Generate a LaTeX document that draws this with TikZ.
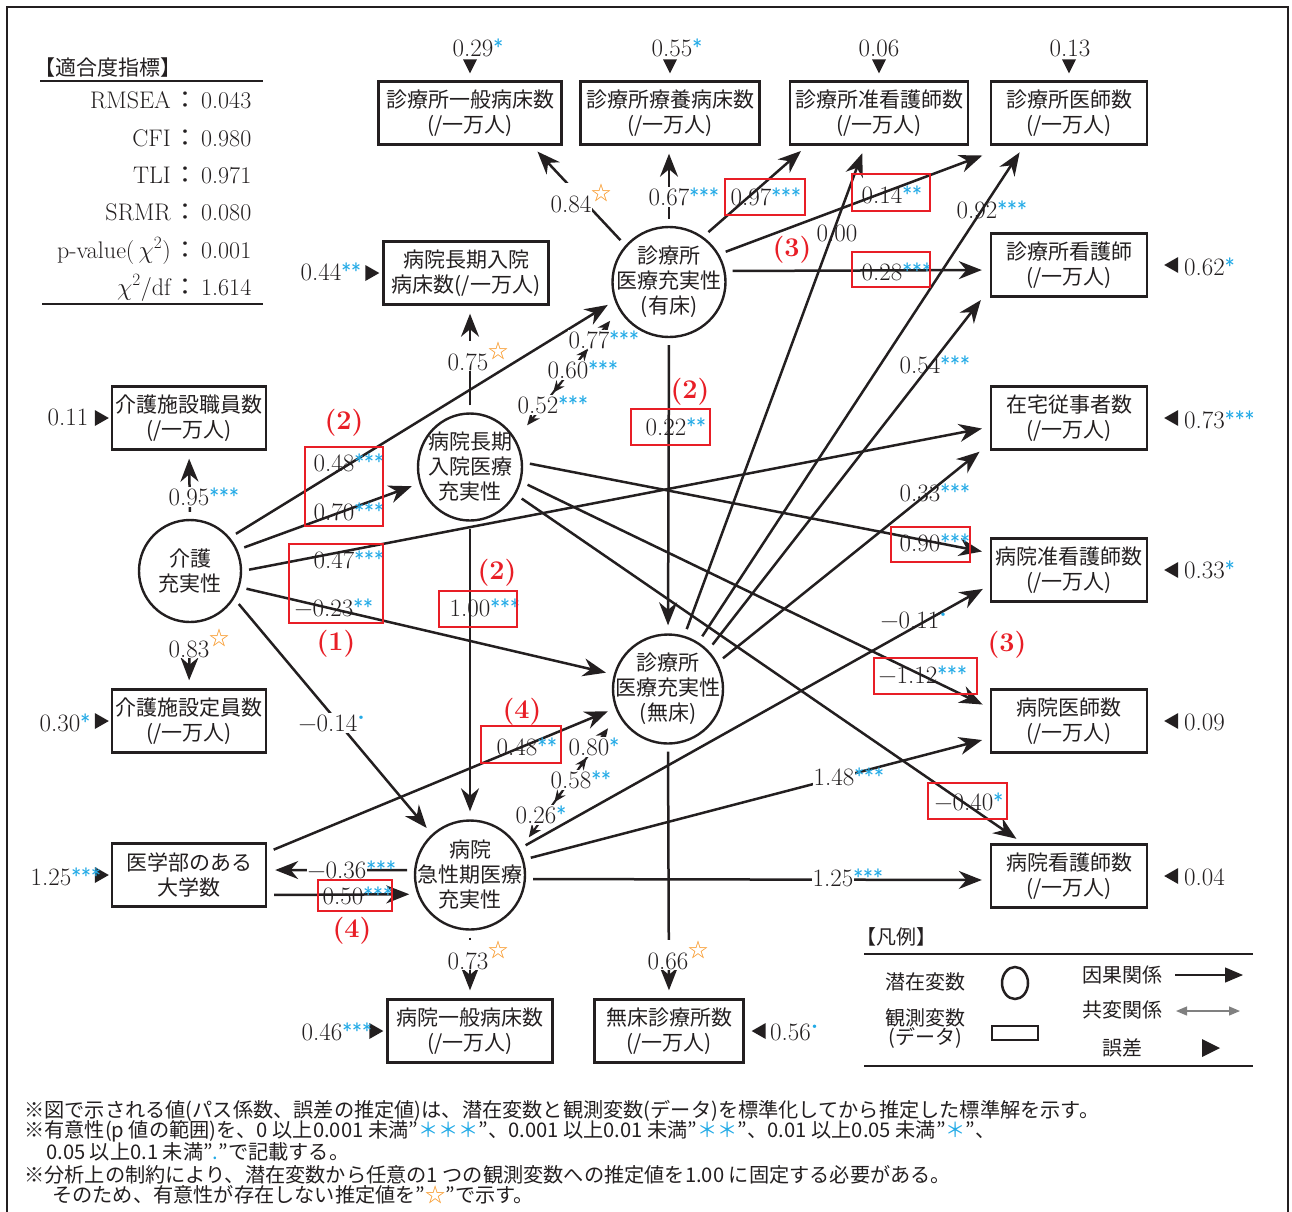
\documentclass[tikz,border=0pt]{standalone}
\usepackage{fontspec}
\usetikzlibrary{arrows.meta,shapes.geometric}
\newfontfamily\jpf{Noto Sans CJK JP}
\definecolor{sigc}{RGB}{35,170,230}
\definecolor{starc}{RGB}{247,147,30}
\definecolor{redc}{RGB}{232,30,38}
\definecolor{ink}{RGB}{35,31,32}
\newcommand\boxfont{\jpf\fontsize{21}{25}\selectfont}
\newcommand\numfont{\fontsize{25}{28}\selectfont}
% significance marks set after a number without widening it
\newcommand\sig[1]{\rlap{\raisebox{2pt}{\fontsize{21}{21}\selectfont\sffamily\textcolor{sigc}{#1}}}}
\newcommand\fixd{\rlap{\raisebox{12pt}{\jpf\fontsize{20}{20}\selectfont\textcolor{starc}{☆}}}}
\newcommand\marg{\rlap{\raisebox{12pt}{\fontsize{24}{24}\selectfont\bfseries\textcolor{sigc}{.}}}}
\tikzset{
  obs/.style={draw=ink, line width=2.4pt, minimum height=63pt, align=center, font=\boxfont, text=ink, inner sep=0pt},
  lat/.style={draw=ink, ellipse, line width=2.4pt, inner sep=0pt},
  lattxt/.style={align=center, font=\boxfont, text=ink, inner sep=0pt},
  cause/.style={draw=ink, line width=2.5pt, -{Stealth[length=23pt,width=18pt]}, shorten <=7pt, shorten >=8pt},
  cov/.style={draw=ink, line width=2.1pt, {Stealth[length=13pt,width=11pt]}-{Stealth[length=13pt,width=11pt]}},
  covmid/.style={draw=ink, line width=2.1pt, -{Stealth[length=12pt,width=10pt]}},
  lab/.style={font=\numfont, text=ink, inner sep=1pt},
  labw/.style={lab, fill=white},
  rbox/.style={draw=redc, line width=2pt},
  rnum/.style={text=redc, font=\fontsize{27}{27}\selectfont\bfseries, inner sep=0pt},
  fitl/.style={font=\fontsize{24}{26}\selectfont, text=ink, inner sep=0pt},
  lgt/.style={font=\jpf\fontsize{20}{22}\selectfont, text=ink, inner sep=0pt, align=center},
  fn/.style={font=\jpf\fontsize{20.2}{22}\selectfont, text=ink, inner sep=0pt, anchor=base west},
  errD/.pic={\fill[ink] (-7,-7) -- (7,-7) -- (0,7) -- cycle;},
  errL/.pic={\fill[ink] (7,-8) -- (7,8) -- (-7,0) -- cycle;},
  errR/.pic={\fill[ink] (-7,-8) -- (-7,8) -- (7,0) -- cycle;},
  errRbig/.pic={\fill[ink] (-9,-9) -- (-9,9) -- (9,0) -- cycle;},
}
\begin{document}
\begin{tikzpicture}[x=1pt,y=-1pt]
\useasboundingbox (0,0) rectangle (1292,1211);
\draw[ink, line width=2.5pt] (7,7) rectangle (1288,1240);

% ---------- fit indices ----------
\node[fitl, anchor=west, font=\jpf\fontsize{21}{24}\selectfont] (fh) at (34,68) {【適合度指標】};
\draw[ink, line width=2.4pt] (40,81) -- (263,81);
\node[fitl, anchor=base east] (fa1) at (171,108) {RMSEA};
\node[fitl, anchor=base west] (fb1) at (173,108) {{\jpf ：}\,0.043};
\node[fitl, anchor=base east] (fa2) at (171,146) {CFI};
\node[fitl, anchor=base west] (fb2) at (173,146) {{\jpf ：}\,0.980};
\node[fitl, anchor=base east] (fa3) at (171,183) {TLI};
\node[fitl, anchor=base west] (fb3) at (173,183) {{\jpf ：}\,0.971};
\node[fitl, anchor=base east] (fa4) at (171,220) {SRMR};
\node[fitl, anchor=base west] (fb4) at (173,220) {{\jpf ：}\,0.080};
\node[fitl, anchor=base east] (fa5) at (171,258) {p-value($\,\chi^{2}$)};
\node[fitl, anchor=base west] (fb5) at (173,258) {{\jpf ：}\,0.001};
\node[fitl, anchor=base east] (fa6) at (171,295) {$\chi^{2}$/df};
\node[fitl, anchor=base west] (fb6) at (173,295) {{\jpf ：}\,1.614};
\draw[ink, line width=2.4pt] (42,304) -- (263,304);

% ---------- observed variables ----------
\node[obs, minimum width=183pt] (b1) at (470,113) {診療所一般病床数\\(/一万人)};
\node[obs, minimum width=179pt] (b2) at (670,113) {診療所療養病床数\\(/一万人)};
\node[obs, minimum width=178pt] (b3) at (879,113) {診療所准看護師数\\(/一万人)};
\node[obs, minimum width=156pt] (b4) at (1069,113) {診療所医師数\\(/一万人)};
\node[obs, minimum width=156pt] (n1) at (1069,265) {診療所看護師\\(/一万人)};
\node[obs, minimum width=156pt] (n2) at (1069,418) {在宅従事者数\\(/一万人)};
\node[obs, minimum width=156pt] (n3) at (1069,570) {病院准看護師数\\(/一万人)};
\node[obs, minimum width=156pt] (n4) at (1069,721) {病院医師数\\(/一万人)};
\node[obs, minimum width=156pt] (n5) at (1069,876) {病院看護師数\\(/一万人)};
\node[obs, minimum width=154pt] (e1) at (189,418) {介護施設職員数\\(/一万人)};
\node[obs, minimum width=154pt] (e2) at (189,721) {介護施設定員数\\(/一万人)};
\node[obs, minimum width=154pt] (u) at (189,875) {医学部のある\\大学数};
\node[obs, minimum width=165pt] (h2) at (466,273) {病院長期入院\\病床数(/一万人)};
\node[obs, minimum width=165pt] (h1) at (470,1031) {病院一般病床数\\(/一万人)};
\node[obs, minimum width=149pt] (mc) at (669,1031) {無床診療所数\\(/一万人)};

% ---------- latent variables ----------
\node[lat, minimum width=113pt, minimum height=110pt, label={[lattxt]center:診療所\\医療充実性\\(有床)}] (c1) at (669,282) {};
\node[lat, minimum width=104pt, minimum height=107pt, label={[lattxt]center:病院長期\\入院医療\\充実性}] (l1) at (470,467) {};
\node[lat, minimum width=102pt, minimum height=102pt, label={[lattxt]center:介護\\充実性}] (k) at (190,571) {};
\node[lat, minimum width=110pt, minimum height=109pt, label={[lattxt]center:診療所\\医療充実性\\(無床)}] (c2) at (668,689) {};
\node[lat, minimum width=110pt, minimum height=109pt, label={[lattxt]center:病院\\急性期医療\\充実性}] (c3) at (470,875) {};

% ---------- paths ----------
% from the clinic (with beds) factor
\draw[cause] (c1.140) -- ([xshift=62pt]b1.south);
\draw[cause] (c1.north) -- (c1.north |- b2.south);
\draw[cause] (c1.53) -- ([xshift=-72pt]b3.south);
\draw[cause] (c1.29) -- ([yshift=-7pt]b4.south west);
\draw[cause] (c1.11) -- ([yshift=-5pt]n1.west);
\draw[cause] (c1.south) -- (c2.north);
% from the clinic (without beds) factor
\draw[cause] (c2.73) -- ([xshift=-14pt]b3.south);
\draw[cause] (c2.57) -- ([xshift=-45pt]b4.south);
\draw[cause] (c2.44) -- ([xshift=-4pt,yshift=4pt]n1.south west);
\draw[cause] (c2.28) -- ([xshift=-4pt,yshift=4pt]n2.south west);
\draw[cause] (c2.south) -- (mc.north);
% from the acute hospital factor
\draw[cause] (c3.28) -- ([yshift=-15pt]n3.west);
\draw[cause] (c3.16) -- ([yshift=-17pt]n4.west);
\draw[cause] ([yshift=-4pt]c3.east) -- ([yshift=-4pt]n5.west);
\draw[cause] (c3.175) -- ([yshift=5pt]u.east);
\draw[cause] ([yshift=-20pt]u.east) -- (c3.200);
\draw[cause] (c3.south) -- (h1.north);
\draw[cause] ([yshift=-10pt]u.north east) -- (c2.200);
% from the long-term hospital factor
\draw[cause] (l1.north) -- (l1.north |- h2.south);
\draw[cause] (l1.south) -- (c3.north);
\draw[cause] (l1.5) -- ([yshift=17pt]n3.west);
\draw[cause] (l1.-16) -- ([yshift=13pt]n4.west);
\draw[cause] (l1.-31) -- ([xshift=-46pt]n5.north);
% from the care factor
\draw[cause] (k.north) -- (e1.south);
\draw[cause] (k.south) -- (e2.north);
\draw[cause] (k.40) -- (c1.199);
\draw[cause] (k.24) -- (l1.198);
\draw[cause] (k.0) -- ([yshift=-9pt]n2.west);
\draw[cause] (k.-18) -- (c2.165);
\draw[cause] (k.-32) -- (c3.133);

% ---------- covariances ----------
\draw[cov, shorten <=18pt, shorten >=14pt] (l1.31) -- (c1.209);
\path (l1.31) -- (c1.209) coordinate[pos=0.62] (ca1) coordinate[pos=0.70] (ca2)
                          coordinate[pos=0.44] (ca3) coordinate[pos=0.36] (ca4);
\draw[cov, shorten <=15pt, shorten >=17pt] (c3.27) -- (c2.207);
\path (c3.27) -- (c2.207) coordinate[pos=0.60] (cb1) coordinate[pos=0.68] (cb2)
                          coordinate[pos=0.43] (cb3) coordinate[pos=0.35] (cb4);
\node[labw] (t052) at (538,405) {0.52\sig{***}};
\node[labw] (t060) at (568,370) {0.60\sig{***}};
\node[labw] (t077) at (589,340) {0.77\sig{***}};
\node[labw] (t026) at (536,815) {0.26\sig{*}};
\node[labw] (t058) at (571,780) {0.58\sig{**}};
\node[labw] (t080) at (589,747) {0.80\sig{*}};
\draw[covmid] (ca1) -- (ca2);
\draw[covmid] (ca3) -- (ca4);
\draw[covmid] (cb1) -- (cb2);
\draw[covmid] (cb3) -- (cb4);

% ---------- coefficients ----------
\node[labw] (t084) at (571,198) {0.84\fixd};
\node[labw] (t067) at (669,197) {0.67\sig{***}};
\node[lab] (t097) at (751,197) {0.97\sig{***}};
\node[lab] (t014) at (882,195) {0.14\sig{**}};
\node[lab] (t028) at (882,272) {0.28\sig{***}};
\node[lab] (t000) at (837,233) {0.00};
\node[lab] (t092) at (977,210) {0.92\sig{***}};
\node[lab] (t054) at (920,365) {0.54\sig{***}};
\node[lab] (t033) at (920,493) {0.33\sig{***}};
\node[lab] (t022) at (666,427) {0.22\sig{**}};
\node[labw] (t075) at (468,356) {0.75\fixd};
\node[labw] (t095) at (189,497) {0.95\sig{***}};
\node[labw] (t083) at (189,643) {0.83\fixd};
\node[lab] (t048) at (334,463) {0.48\sig{***}};
\node[lab] (t070) at (334,512) {0.70\sig{***}};
\node[lab] (t047) at (334,560) {0.47\sig{***}};
\node[lab] (t023) at (324,608) {−0.23\sig{**}};
\node[labw] (t014n) at (328,723) {−0.14\marg};
\node[lab] (t100) at (470,608) {1.00\sig{***}};
\node[lab] (t090) at (920,543) {0.90\sig{***}};
\node[lab] (t112) at (908,675) {−1.12\sig{***}};
\node[lab] (t040) at (964,802) {−0.40\sig{*}};
\node[lab] (t011) at (910,620) {−0.11\marg};
\node[labw] (t148) at (834,777) {1.48\sig{***}};
\node[labw] (t125) at (833,878) {1.25\sig{***}};
\node[lab] (t048u) at (517,747) {0.48\sig{**}};
\node[labw] (t036) at (337,870) {−0.36\sig{***}};
\node[lab] (t050) at (343,896) {0.50\sig{***}};
\node[labw] (t073) at (468,955) {0.73\fixd};
\node[labw] (t066) at (668,955) {0.66\fixd};

% ---------- highlighted estimates ----------
\draw[rbox] (725,179) rectangle (805,215);
\draw[rbox] (852,174) rectangle (930,211);
\draw[rbox] (852,252) rectangle (930,287);
\draw[rbox] (631,409) rectangle (710,445);
\draw[rbox] (305,447) rectangle (383,526);
\draw[rbox] (289,544) rectangle (383,623);
\draw[rbox] (439,591) rectangle (517,627);
\draw[rbox] (891,527) rectangle (970,562);
\draw[rbox] (874,658) rectangle (977,694);
\draw[rbox] (928,783) rectangle (1007,819);
\draw[rbox] (481,726) rectangle (561,763);
\draw[rbox] (318,880) rectangle (392,911);
\node[rnum] (r3a) at (792,250) {(3)};
\node[rnum] (r2a) at (690,392) {(2)};
\node[rnum] (r2b) at (344,423) {(2)};
\node[rnum] (r2c) at (497,573) {(2)};
\node[rnum] (r1) at (336,644) {(1)};
\node[rnum] (r3b) at (1007,645) {(3)};
\node[rnum] (r4a) at (522,712) {(4)};
\node[rnum] (r4b) at (352,931) {(4)};

% ---------- error terms ----------
\pic at ([yshift=14pt]b1.north) {errD};
\pic at ([yshift=14pt]b2.north) {errD};
\pic at ([yshift=14pt]b3.north) {errD};
\pic at ([yshift=14pt]b4.north) {errD};
\node[lab] (v1) at (473,48) {0.29\sig{*}};
\node[lab] (v2) at (672,48) {0.55\sig{*}};
\node[lab] (v3) at (879,48) {0.06};
\node[lab] (v4) at (1070,48) {0.13};
\pic at ([xshift=23pt]n1.east) {errL};
\pic at ([xshift=23pt]n2.east) {errL};
\pic at ([xshift=23pt]n3.east) {errL};
\pic at ([xshift=23pt]n4.east) {errL};
\pic at ([xshift=23pt]n5.east) {errL};
\node[lab, anchor=west] (v5) at (1183,267) {0.62\sig{*}};
\node[lab, anchor=west] (v6) at (1183,420) {0.73\sig{***}};
\node[lab, anchor=west] (v7) at (1183,570) {0.33\sig{*}};
\node[lab, anchor=west] (v8) at (1183,722) {0.09};
\node[lab, anchor=west] (v9) at (1183,877) {0.04};
\pic at ([xshift=-9pt]e1.west) {errR};
\pic at ([xshift=-9pt]e2.west) {errR};
\pic at ([xshift=-9pt]u.west) {errR};
\pic at ([xshift=-10pt]h2.west) {errR};
\pic at ([xshift=-10pt]h1.west) {errR};
\pic at ([xshift=14pt]mc.east) {errL};
\node[lab] (v10) at (68,417) {0.11};
\node[lab] (v11) at (60,723) {0.30\sig{*}};
\node[lab] (v12) at (51,877) {1.25\sig{***}};
\node[lab] (v13) at (321,272) {0.44\sig{**}};
\node[lab] (v14) at (322,1032) {0.46\sig{***}};
\node[lab, anchor=west] (v15) at (769,1032) {0.56\marg};

% ---------- legend ----------
\node[lgt, anchor=west] (lgh) at (856,937) {【凡例】};
\draw[ink, line width=2.6pt] (864,954) -- (1253,954);
\node[lgt] (lg1) at (925,982) {潜在変数};
\node[draw=ink, ellipse, line width=2.5pt, minimum width=26pt, minimum height=32pt, inner sep=0pt] (lgc) at (1015,983) {};
\node[lgt, font=\jpf\fontsize{20}{19}\selectfont] (lg2) at (925,1029) {観測変数\\(データ)};
\node[draw=ink, line width=2.5pt, minimum width=46pt, minimum height=14pt, inner sep=0pt] (lgr) at (1015,1033) {};
\node[lgt] (lg3) at (1122,975) {因果関係};
\coordinate (la1) at (1175,975);
\coordinate (la2) at (1243,975);
\draw[ink, line width=1.2pt, -{Triangle[length=18pt,width=15pt]}] (la1) -- (la2);
\node[lgt] (lg4) at (1122,1010) {共変関係};
\coordinate (lb1) at (1176,1011);
\coordinate (lb2) at (1240,1011);
\draw[gray, line width=1.2pt, {Triangle[length=11pt,width=9pt]}-{Triangle[length=11pt,width=9pt]}] (lb1) -- (lb2);
\node[lgt] (lg5) at (1122,1048) {誤差};
\pic at (1211,1048) {errRbig};
\draw[ink, line width=2.6pt] (864,1066) -- (1253,1066);

% ---------- notes ----------
\node[fn] (fn1) at (24,1117) {※図で示される値(パス係数、誤差の推定値)は、潜在変数と観測変数(データ)を標準化してから推定した標準解を示す。};
\node[fn] (fn2) at (24,1137) {※有意性(p 値の範囲)を、0 以上0.001 未満”\textcolor{sigc}{＊＊＊}”、0.001 以上0.01 未満”\textcolor{sigc}{＊＊}”、0.01 以上0.05 未満”\textcolor{sigc}{＊}”、};
\node[fn] (fn3) at (46,1159) {0.05 以上0.1 未満”\textcolor{sigc}{.}”で記載する。};
\node[fn] (fn4) at (24,1182) {※分析上の制約により、潜在変数から任意の1 つの観測変数への推定値を1.00 に固定する必要がある。};
\node[fn] (fn5) at (52,1202) {そのため、有意性が存在しない推定値を”\textcolor{starc}{☆}”で示す。};
\end{tikzpicture}
\end{document}
